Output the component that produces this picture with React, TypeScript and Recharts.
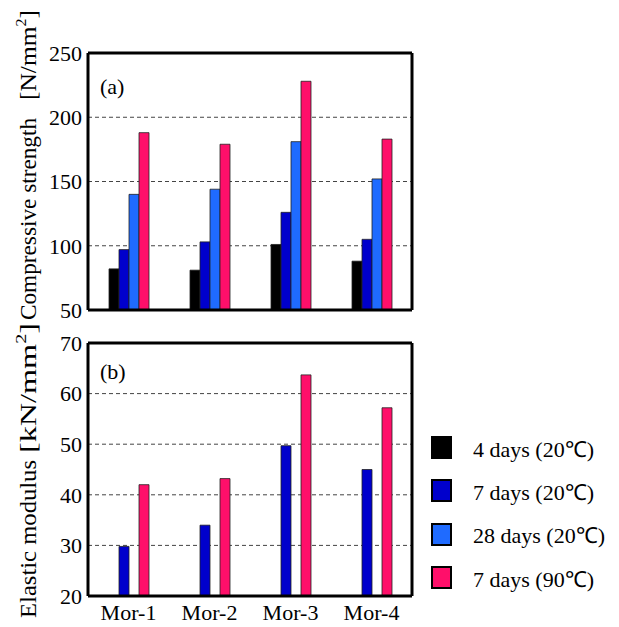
import React from 'react';
import { BarChart, Bar, XAxis, YAxis, CartesianGrid } from 'recharts';

const CATEGORIES = ['Mor-1', 'Mor-2', 'Mor-3', 'Mor-4'];

// (a) compressive strength, N/mm2
const STRENGTH_4D = [82, 81, 101, 88];
const STRENGTH_7D = [97, 103, 126, 105];
const STRENGTH_28D = [140, 144, 181, 152];
const STRENGTH_7D_90 = [188, 179, 228, 183];
const STRENGTH_TICKS = [50, 100, 150, 200, 250];

// (b) elastic modulus, kN/mm2 (only 7 days measured)
const MODULUS_7D = [29.8, 34, 49.7, 45];
const MODULUS_7D_90 = [42, 43.2, 63.7, 57.2];
const MODULUS_TICKS = [20, 30, 40, 50, 60, 70];

const SERIES = [
    { key: 'd4', name: '4 days (20\u2103)', color: '#000000' },
    { key: 'd7', name: '7 days (20\u2103)', color: '#0000CC' },
    { key: 'd28', name: '28 days (20\u2103)', color: '#1F6BFF' },
    { key: 'd7h', name: '7 days (90\u2103)', color: '#FF0F6A' },
];

const strengthData = CATEGORIES.map((name, i) => ({
    name,
    d4: STRENGTH_4D[i],
    d7: STRENGTH_7D[i],
    d28: STRENGTH_28D[i],
    d7h: STRENGTH_7D_90[i],
}));

const modulusData = CATEGORIES.map((name, i) => ({
    name,
    d4: null,
    d7: MODULUS_7D[i],
    d28: null,
    d7h: MODULUS_7D_90[i],
}));

const FONT = '"Liberation Serif", "Times New Roman", serif';
const tickStyle = { fill: '#000', fontSize: 22, fontFamily: FONT };
const frame = { stroke: '#000', strokeWidth: 3 };

// rotated axis title: the words and the bracketed unit are stretched separately
const AxisTitle = ({ x, title }: any) => (
    <g fontFamily={FONT} fontSize={24} fill="#000">
        <text transform={`translate(${x} ${title.start}) rotate(-90)`} textLength={title.len} lengthAdjust="spacingAndGlyphs">
            {title.text}
        </text>
        <text transform={`translate(${x} ${title.unitStart}) rotate(-90)`} textLength={title.unitLen} lengthAdjust="spacingAndGlyphs">
            [{title.unit}
            <tspan dy={-10} fontSize={15}>2</tspan>
            <tspan dy={10}>]</tspan>
        </text>
    </g>
);

const Panel = (props: any) => {
    const { data, ticks, top, height, marginTop, marginBottom, showCats, panel, panelDy, title } = props;
    return (
        <div style={{ position: 'absolute', left: 0, top, width: 420, height }}>
            <BarChart
                width={420}
                height={height}
                data={data}
                margin={{ top: marginTop, right: 7, bottom: marginBottom, left: 48 }}
                barSize={10}
                barGap={0}
            >
                <CartesianGrid vertical={false} stroke="#444" strokeDasharray="4 3" />
                <XAxis
                    dataKey="name"
                    height={showCats ? 30 : 1}
                    tick={showCats ? tickStyle : false}
                    tickLine={false}
                    axisLine={frame}
                />
                <XAxis
                    xAxisId="top"
                    dataKey="name"
                    orientation="top"
                    height={1}
                    tick={false}
                    tickLine={false}
                    axisLine={frame}
                    label={{
                        content: (p: any) => (
                            <text x={p.viewBox.x + 12} y={p.viewBox.y + 1 + panelDy} fontFamily={FONT} fontSize={22} fill="#000">
                                {panel}
                            </text>
                        ),
                    }}
                />
                <YAxis
                    type="number"
                    domain={[ticks[0], ticks[ticks.length - 1]]}
                    ticks={ticks}
                    interval={0}
                    width={40}
                    tick={tickStyle}
                    tickLine={false}
                    tickSize={6}
                    tickMargin={0}
                    axisLine={frame}
                    allowDataOverflow
                    label={{ content: () => <AxisTitle x={36} title={title} /> }}
                />
                <YAxis
                    yAxisId="right"
                    orientation="right"
                    width={1}
                    domain={[ticks[0], ticks[ticks.length - 1]]}
                    tick={false}
                    tickLine={false}
                    axisLine={frame}
                />
                {SERIES.map((s) => (
                    <Bar
                        key={s.key}
                        dataKey={s.key}
                        name={s.name}
                        fill={s.color}
                        stroke="#222"
                        strokeWidth={0.8}
                        isAnimationActive={false}
                    />
                ))}
            </BarChart>
        </div>
    );
};

const Legend = () => (
    <div style={{ position: 'absolute', left: 431, top: 436 }}>
        {SERIES.map((s) => (
            <div key={s.key} style={{ display: 'flex', alignItems: 'center', height: 43.3 }}>
                <div
                    style={{
                        width: 21,
                        height: 23,
                        boxSizing: 'border-box',
                        border: '2.5px solid #000',
                        background: s.color,
                        marginTop: -20,
                    }}
                />
                <span style={{ marginLeft: 21, marginTop: -20, fontFamily: FONT, fontSize: 22, color: '#000', whiteSpace: 'nowrap' }}>
                    {s.name}
                </span>
            </div>
        ))}
    </div>
);

export default function App() {
    return (
        <div style={{ position: 'absolute', left: 0, top: 0, width: 619, height: 627, background: '#fff', fontFamily: FONT }}>
            <Panel
                data={strengthData}
                ticks={STRENGTH_TICKS}
                top={0}
                height={332}
                marginTop={52}
                marginBottom={21}
                showCats={false}
                panel="(a)"
                panelDy={41}
                title={{ text: 'Compressive strength', unit: 'N/mm', start: 320, len: 202, unitStart: 100, unitLen: 90 }}
            />
            <Panel
                data={modulusData}
                ticks={MODULUS_TICKS}
                top={320}
                height={307}
                marginTop={22}
                marginBottom={1}
                showCats
                panel="(b)"
                panelDy={36}
                title={{ text: 'Elastic modulus', unit: 'kN/mm', start: 298, len: 158, unitStart: 133, unitLen: 130 }}
            />
            <Legend />
        </div>
    );
}
